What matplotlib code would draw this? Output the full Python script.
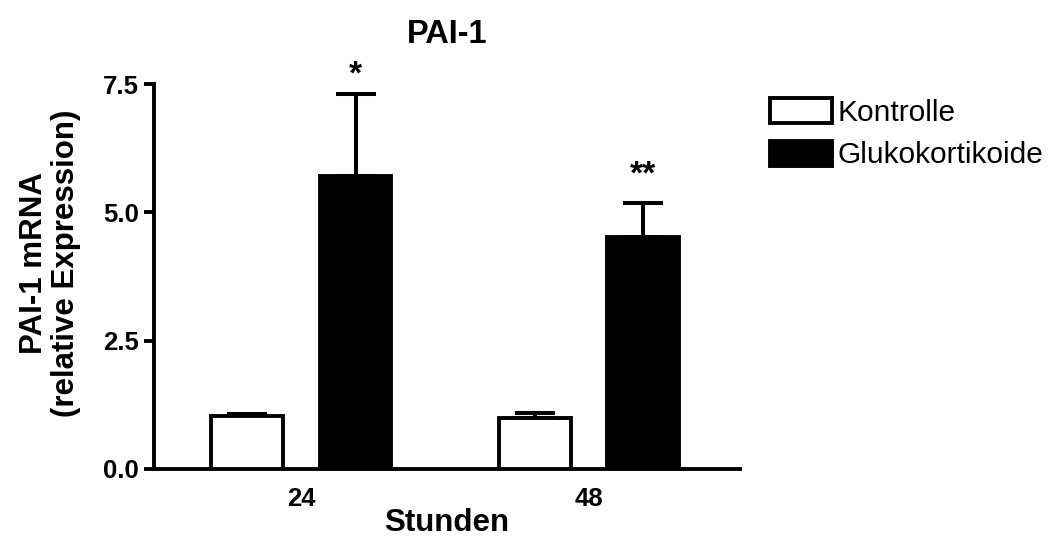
import matplotlib
matplotlib.use("Agg")
import matplotlib.pyplot as plt
import numpy as np

plt.rcParams['font.family'] = ['Liberation Sans', 'DejaVu Sans']

# Data
groups = ["24", "48"]
series = ["Kontrolle", "Glukokortikoide"]
kontrolle_mean = [1.03, 1.00]
kontrolle_err = [0.05, 0.10]
gluko_mean = [5.72, 4.53]
gluko_err = [1.58, 0.66]
stars = ["*", "**"]
yticks = [0.0, 2.5, 5.0, 7.5]
yticklabels = ["0.0", "2.5", "5.0", "7.5"]

fig = plt.figure(figsize=(10.54, 5.47), dpi=100)
ax = fig.add_axes([0.1461, 0.1426, 0.702 - 0.1461, 0.846 - 0.1426])

x = np.arange(len(groups))
off = 0.188
w = 0.25
lw = 2.8

ax.bar(x - off, kontrolle_mean, w, color="white", edgecolor="black", linewidth=lw,
       label=series[0], zorder=3)
ax.bar(x + off, gluko_mean, w, color="black", edgecolor="black", linewidth=lw,
       label=series[1], zorder=3)

zeros = [0] * len(groups)
ax.errorbar(x - off, kontrolle_mean, yerr=[zeros, kontrolle_err], fmt="none",
            ecolor="black", elinewidth=2.9, capsize=14.4, capthick=2.9, zorder=2)
ax.errorbar(x + off, gluko_mean, yerr=[zeros, gluko_err], fmt="none",
            ecolor="black", elinewidth=2.9, capsize=14.4, capthick=2.9, zorder=2)

star_offsets = [14, 20]
for xi, m, e, s, o in zip(x + off, gluko_mean, gluko_err, stars, star_offsets):
    ax.annotate(s, xy=(xi, m + e), xytext=(0, o), textcoords="offset points",
                ha="center", va="center", fontsize=24, fontweight="bold")

ax.set_xlim(-0.513, 1.525)
ax.set_ylim(0, 7.5)
ax.set_yticks(yticks)
ax.set_yticklabels(yticklabels)
ax.set_xticks(x)
ax.set_xticklabels(groups)

for s in ["top", "right"]:
    ax.spines[s].set_visible(False)
for s in ["left", "bottom"]:
    ax.spines[s].set_linewidth(2.8)

ax.tick_params(axis="y", length=7, width=2.8, pad=4, labelsize=18.5)
ax.tick_params(axis="x", length=0, pad=13, labelsize=18.5)
for lab in ax.get_xticklabels() + ax.get_yticklabels():
    lab.set_fontweight("bold")

ax.set_title("PAI-1", fontsize=23.5, fontweight="bold", pad=30)
ax.set_xlabel("Stunden", fontsize=22.5, fontweight="bold", va="center")
ax.xaxis.set_label_coords(0.5, -0.14)
ax.set_ylabel("PAI-1 mRNA\n(relative Expression)", fontsize=22.5, fontweight="bold",
              va="center", linespacing=1.1)
ax.yaxis.set_label_coords(-0.178, 0.535)

leg = ax.legend(loc="upper left", bbox_to_anchor=(770 / 1054, 1 - 98 / 547),
                bbox_transform=fig.transFigure, frameon=False, fontsize=21.5,
                handlelength=2.07, handleheight=0.9, handletextpad=0.2,
                labelspacing=0.47, borderpad=0, borderaxespad=0)
for h in leg.legend_handles:
    h.set_linewidth(2.8)

fig.savefig("out.png", dpi=100)
